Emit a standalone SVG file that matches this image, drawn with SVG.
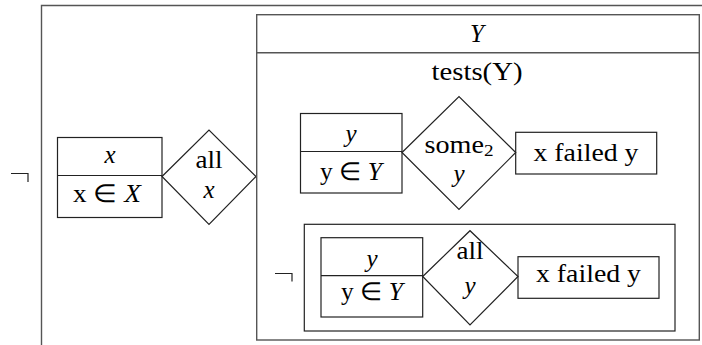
<svg xmlns="http://www.w3.org/2000/svg" width="702" height="345" viewBox="0 0 702 345">
<style>
.b{fill:none;stroke:#222;stroke-width:1.2}
.o{fill:none;stroke:#555;stroke-width:1.4}
.i{font-style:italic}
</style>
<rect width="702" height="345" fill="#fff"/>
<g font-family="Liberation Serif, Times New Roman, serif" font-size="25" text-anchor="middle" fill="#000">
<g id="outer-negation">
<path class="o" d="M41.5,345 V5.5 H702"/>
<path class="b" d="M11,173.5 H28 V182"/>
</g>
<g id="x-box">
<rect class="b" x="57.5" y="137.5" width="104.5" height="80"/>
<line class="b" x1="57.5" y1="175.5" x2="162" y2="175.5"/>
<text x="110" y="163" class="i">x</text>
<text x="107" y="202" textLength="68" lengthAdjust="spacingAndGlyphs">x ∈ <tspan class="i">X</tspan></text>
</g>
<g id="all-x">
<path class="b" d="M162,176.5 L209,130 L256,176.5 L209,224.5 Z"/>
<text x="209" y="168" textLength="27" lengthAdjust="spacingAndGlyphs">all</text>
<text x="209" y="198" class="i">x</text>
</g>
<g id="Y-box">
<rect class="o" x="256.7" y="14.7" width="442.6" height="325.3"/>
<line class="o" x1="256.7" y1="52.7" x2="699.3" y2="52.7"/>
<text x="477" y="41.5" class="i">Y</text>
<text x="477" y="80" textLength="91" lengthAdjust="spacingAndGlyphs">tests(Y)</text>
</g>
<g id="y-box-1">
<rect class="b" x="300.5" y="113.5" width="101.5" height="79.5"/>
<line class="b" x1="300.5" y1="151.5" x2="402" y2="151.5"/>
<text x="351" y="141.5" class="i">y</text>
<text x="351" y="180" textLength="62" lengthAdjust="spacingAndGlyphs">y ∈ <tspan class="i">Y</tspan></text>
</g>
<g id="some2-y">
<path class="b" d="M402,152.5 L459,96.5 L515.7,152.5 L459,209.5 Z"/>
<text x="459" y="153" textLength="69" lengthAdjust="spacingAndGlyphs">some<tspan font-size="17" dy="3">2</tspan></text>
<text x="459" y="182" class="i">y</text>
</g>
<g id="failed-1">
<rect class="b" x="515.7" y="132.3" width="141" height="41.7"/>
<text x="586" y="160.7" textLength="105" lengthAdjust="spacingAndGlyphs">x failed y</text>
</g>
<g id="inner-negation">
<rect class="b" x="304.3" y="224.3" width="370.7" height="106.7"/>
<path class="b" d="M275,273.5 H292 V281.5"/>
</g>
<g id="y-box-2">
<rect class="b" x="321" y="237.7" width="101.7" height="79.3"/>
<line class="b" x1="321" y1="275.7" x2="422.7" y2="275.7"/>
<text x="372" y="266.7" class="i">y</text>
<text x="372" y="300" textLength="62" lengthAdjust="spacingAndGlyphs">y ∈ <tspan class="i">Y</tspan></text>
</g>
<g id="all-y">
<path class="b" d="M422.7,276.5 L470,230.7 L518,276.5 L470,325 Z"/>
<text x="470" y="259" textLength="27" lengthAdjust="spacingAndGlyphs">all</text>
<text x="470" y="294" class="i">y</text>
</g>
<g id="failed-2">
<rect class="b" x="518" y="256.7" width="141" height="41.6"/>
<text x="588.5" y="282" textLength="105" lengthAdjust="spacingAndGlyphs">x failed y</text>
</g>
</g>
<g id="connectors"></g>
</svg>
